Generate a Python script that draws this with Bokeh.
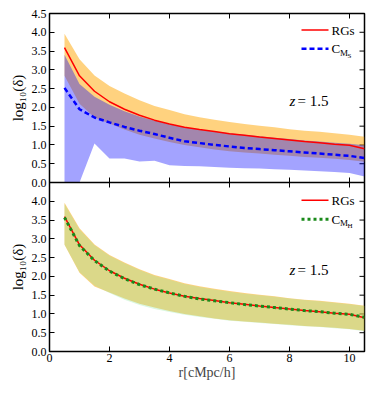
import math
from bokeh.plotting import figure
from bokeh.models import (FixedTicker, Label, ColumnDataSource, Range1d, Span)
from bokeh.layouts import row
from bokeh.embed import file_html
from bokeh.resources import INLINE

# ---------------- data ----------------
r = [0.5, 1.0, 1.5, 2.0, 2.5, 3.0, 3.5, 4.0, 4.5, 5.0, 5.5,
     6.0, 6.5, 7.0, 7.5, 8.0, 8.5, 9.0, 9.5, 10.0, 10.5]

rgs_mean = [3.59, 2.84, 2.43, 2.15, 1.95, 1.79, 1.66, 1.56, 1.47, 1.41, 1.36,
            1.30, 1.26, 1.21, 1.17, 1.13, 1.09, 1.06, 1.02, 0.99, 0.90]
rgs_high = [3.96, 3.28, 2.85, 2.57, 2.37, 2.19, 2.04, 1.93, 1.82, 1.74, 1.67,
            1.61, 1.56, 1.51, 1.47, 1.42, 1.38, 1.35, 1.31, 1.27, 1.22]
rgs_low = [2.84, 2.10, 1.73, 1.57, 1.41, 1.27, 1.17, 1.08, 1.00, 0.94, 0.88,
           0.83, 0.80, 0.77, 0.74, 0.71, 0.68, 0.66, 0.63, 0.60, 0.55]

cms_mean = [2.52, 1.95, 1.73, 1.60, 1.48, 1.38, 1.29, 1.19, 1.10, 1.05, 1.00,
            0.96, 0.92, 0.89, 0.86, 0.83, 0.80, 0.77, 0.74, 0.71, 0.65]
cms_high = [3.40, 2.62, 2.28, 2.07, 1.90, 1.76, 1.65, 1.55, 1.47, 1.41, 1.36,
            1.31, 1.27, 1.23, 1.19, 1.16, 1.12, 1.09, 1.06, 1.03, 0.99]
cms_low = [0.00, 0.00, 1.04, 0.64, 0.64, 0.56, 0.58, 0.46, 0.44, 0.43, 0.41,
           0.39, 0.38, 0.37, 0.35, 0.34, 0.32, 0.30, 0.28, 0.25, 0.16]

cmh_mean = [3.57, 2.82, 2.42, 2.14, 1.94, 1.78, 1.66, 1.56, 1.47, 1.40, 1.35,
            1.30, 1.25, 1.21, 1.17, 1.13, 1.09, 1.06, 1.02, 0.99, 0.91]
cmh_high = [3.93, 3.25, 2.83, 2.55, 2.35, 2.17, 2.02, 1.91, 1.80, 1.72, 1.65,
            1.59, 1.54, 1.50, 1.46, 1.41, 1.37, 1.34, 1.30, 1.26, 1.21]
cmh_low = [2.85, 2.12, 1.76, 1.56, 1.38, 1.24, 1.13, 1.05, 0.98, 0.92, 0.87,
           0.82, 0.79, 0.76, 0.73, 0.70, 0.67, 0.65, 0.62, 0.59, 0.54]

x_ticks = [0, 2, 4, 6, 8, 10]
x_tick_labels = ["0", "2", "4", "6", "8", "10"]
y_ticks_top = [0.0, 0.5, 1.0, 1.5, 2.0, 2.5, 3.0, 3.5, 4.0, 4.5]
y_tick_labels_top = ["0.0", "0.5", "1.0", "1.5", "2.0", "2.5", "3.0", "3.5", "4.0", "4.5"]
y_ticks_bottom = [0.0, 0.5, 1.0, 1.5, 2.0, 2.5, 3.0, 3.5, 4.0]
y_tick_labels_bottom = ["0.0", "0.5", "1.0", "1.5", "2.0", "2.5", "3.0", "3.5", "4.0"]
redshift_text = "1.5"
x_label = "r[cMpc/h]"
y_label = "log\u2081\u2080(\u03b4)"

src = ColumnDataSource(dict(r=r, rgs_mean=rgs_mean, rgs_high=rgs_high, rgs_low=rgs_low,
                            cms_mean=cms_mean, cms_high=cms_high, cms_low=cms_low,
                            cmh_mean=cmh_mean, cmh_high=cmh_high, cmh_low=cmh_low))

SERIF = "'Liberation Serif'"
PANEL = 4.5          # each panel spans 0 .. 4.5
X_MAX = 10.5
FRAME_H = 338
TOP_B = 13
BOTTOM_B = 4

# One frame holding two stacked panels: the lower panel uses the default range,
# the upper panel uses its own range so that its 0 sits on the shared boundary.
p = figure(frame_width=315, frame_height=FRAME_H,
           x_range=Range1d(0, X_MAX), y_range=Range1d(0, 2 * PANEL),
           output_backend="svg", toolbar_location=None,
           min_border_left=20, min_border_right=8, min_border_top=TOP_B,
           min_border_bottom=BOTTOM_B)
p.extra_y_ranges = {"top": Range1d(-PANEL, PANEL)}
p.grid.visible = False
p.outline_line_color = "black"
p.outline_line_width = 1.5
p.background_fill_color = "white"
p.border_fill_color = "white"

ya = p.yaxis[0]
y_all = y_ticks_bottom + [t + PANEL for t in y_ticks_top]
ya.ticker = FixedTicker(ticks=y_all)
overrides = {}
for t, lab in zip(y_ticks_bottom, y_tick_labels_bottom):
    overrides[t] = lab
for t, lab in zip(y_ticks_top, y_tick_labels_top):
    overrides[t + PANEL] = lab
ya.major_label_overrides = overrides
xa = p.xaxis[0]
xa.ticker = FixedTicker(ticks=x_ticks)
xa.major_label_overrides = {t: lab for t, lab in zip(x_ticks, x_tick_labels)}
for ax in (xa, ya):
    ax.major_tick_in = 5
    ax.major_tick_out = 0
    ax.minor_tick_in = 0
    ax.minor_tick_out = 0
    ax.major_tick_line_color = "black"
    ax.axis_line_color = None
    ax.major_label_text_font = SERIF
    ax.major_label_text_font_size = "12px"
    ax.major_label_text_color = "black"
    ax.major_label_standoff = 3
xa.major_label_standoff = 2
xa.axis_label = x_label
xa.axis_label_text_font = SERIF
xa.axis_label_text_font_size = "14px"
xa.axis_label_text_font_style = "normal"
xa.axis_label_standoff = 0

p.add_layout(Span(location=PANEL, dimension="width", line_color="black", line_width=1.5))

# inward ticks on the right, on the top and on both sides of the shared boundary
p.scatter(x=[X_MAX] * len(y_all), y=y_all, marker="dash", size=10, line_color="black", line_width=1)
p.scatter(x=x_ticks, y=[2 * PANEL] * len(x_ticks), marker="dash", size=10, angle=math.pi / 2,
          line_color="black", line_width=1)
p.scatter(x=x_ticks, y=[PANEL] * len(x_ticks), marker="dash", size=10, angle=math.pi / 2,
          line_color="black", line_width=1)

# ---------------- top panel ----------------
p.varea(x="r", y1="rgs_low", y2="rgs_high", source=src, fill_color="#ffa500", fill_alpha=0.5,
        y_range_name="top")
p.varea(x="r", y1="cms_low", y2="cms_high", source=src, fill_color="#0000ff", fill_alpha=0.36,
        y_range_name="top")
p.line(x="r", y="rgs_mean", source=src, line_color="red", line_width=1.5, y_range_name="top")
p.line(x="r", y="cms_mean", source=src, line_color="blue", line_width=2.5, line_dash="5 3",
       y_range_name="top")

# ---------------- bottom panel ----------------
p.varea(x="r", y1="rgs_low", y2="rgs_high", source=src, fill_color="#ffa500", fill_alpha=0.5)
p.varea(x="r", y1="cmh_low", y2="cmh_high", source=src, fill_color="#8ee6a0", fill_alpha=0.32)
p.line(x="r", y="rgs_mean", source=src, line_color="red", line_width=1.5)
p.line(x="r", y="cmh_mean", source=src, line_color="#1a8a1a", line_width=3, line_dash="3 3")


def add_texts(rng, y1, y2, sub2, line2_kwargs):
    lx = [8.4, 9.3]
    p.line(x=lx, y=[y1, y1], line_color="red", line_width=1.5, y_range_name=rng)
    p.line(x=lx, y=[y2, y2], y_range_name=rng, **line2_kwargs)
    common = dict(text_font=SERIF, text_baseline="middle", text_color="black", y_range_name=rng)
    p.add_layout(Label(x=9.4, y=y1, text="RGs", text_font_size="13px", **common))
    p.add_layout(Label(x=9.4, y=y2, text="C", text_font_size="13px", **common))
    p.add_layout(Label(x=9.4, y=y2, x_offset=8.5, y_offset=-4, text="M", text_font_size="9px", **common))
    p.add_layout(Label(x=9.4, y=y2, x_offset=16, y_offset=-7, text=sub2, text_font_size="7px", **common))
    p.add_layout(Label(x=8.0, y=2.16, text="z", text_font_size="15px", text_font_style="italic", **common))
    p.add_layout(Label(x=8.0, y=2.16, x_offset=8, text="= " + redshift_text, text_font_size="15px", **common))


add_texts("top", 4.06, 3.56, "S", dict(line_color="blue", line_width=2.5, line_dash="5 3"))
add_texts("default", 4.03, 3.52, "H", dict(line_color="#1a8a1a", line_width=3, line_dash="3 3"))

# narrow strip on the left holding the two rotated y-axis titles, aligned with the panels
lab = figure(frame_width=28, frame_height=FRAME_H, x_range=Range1d(0, 1),
             y_range=Range1d(0, 2 * PANEL), output_backend="svg", toolbar_location=None,
             x_axis_location=None, y_axis_location=None,
             min_border_left=0, min_border_right=0, min_border_top=TOP_B,
             min_border_bottom=BOTTOM_B)
lab.outline_line_color = None
lab.grid.visible = False
lab.text(x=[0.62, 0.62], y=[PANEL / 2, PANEL * 1.5], text=[y_label, y_label],
         angle=math.pi / 2, text_align="center", text_baseline="middle",
         text_font=SERIF, text_font_size="15px", text_color="black")

layout = row(lab, p, spacing=0)
open("out.html", "w").write(file_html(layout, INLINE))
